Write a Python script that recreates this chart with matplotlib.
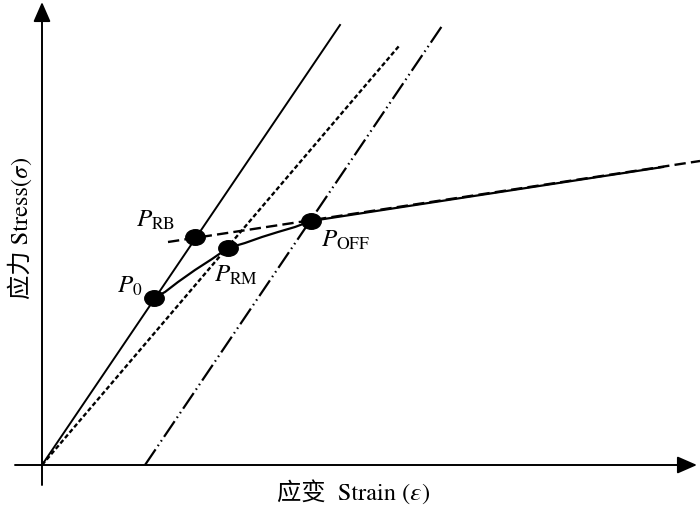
import numpy as np
import matplotlib.pyplot as plt
from matplotlib.path import Path
from matplotlib.transforms import Affine2D

plt.rcParams['mathtext.fontset'] = 'stix'

# schematic strain / stress values (arbitrary units, origin at 0,0)
elastic_x = [0, 298]
elastic_y = [0, 440]
unload_x = [0, 357]
unload_y = [0, 419]
offset_x = [103, 400]
offset_y = [0, 439]
tangent_x = [126, 658]
tangent_y = [223, 304]
plastic_x = [269, 621]
plastic_y = [244, 298]

curve_x = [112, 123, 136, 153, 170, 186, 203, 220, 236, 253, 269]
curve_y = [167, 173, 183, 195, 206, 217, 222, 228, 233, 238, 244]

pt_names = ['P_0', 'P_RB', 'P_RM', 'P_OFF']
pt_x = [112, 153, 186, 269]
pt_y = [167, 228, 217, 244]
lab_x = [75, 94, 172, 279]
lab_y = [172, 238, 183, 218]
lab_txt = [r'$P_{0}$', r'$P_{\mathrm{RB}}$', r'$P_{\mathrm{RM}}$', r'$P_{\mathrm{OFF}}$']

fig = plt.figure(figsize=(7, 5.07), dpi=100)
ax = fig.add_axes([0, 0, 1, 1])
ax.set_xlim(-42, 658)
ax.set_ylim(-42, 465)
ax.axis('off')

# axes with arrows
arr = dict(arrowstyle='-|>,head_length=0.8,head_width=0.35', mutation_scale=15,
           lw=1.4, color='k', shrinkA=0, shrinkB=0)
ax.annotate('', xy=(0, 463), xytext=(0, -20), arrowprops=arr)
ax.annotate('', xy=(655, 0), xytext=(-27, 0), arrowprops=arr)

ax.plot(elastic_x, elastic_y, color='k', lw=1.4)
ax.plot(unload_x, unload_y, color='k', lw=1.7, linestyle=(0, (1.9, 1.1)))
ax.plot(offset_x, offset_y, color='k', lw=1.6,
        linestyle=(0, (8.5, 1.8, 0.7, 1.8, 0.7, 1.8)))
ax.plot(tangent_x, tangent_y, color='k', lw=1.7, linestyle=(0, (4.8, 2.2)))
ax.plot(plastic_x, plastic_y, color='k', lw=1.6)
ax.plot(curve_x, curve_y, color='k', lw=1.6)

ell = Path.unit_circle().transformed(Affine2D().scale(1, 0.8))
ax.plot(pt_x, pt_y, linestyle='none', marker=ell, markersize=14, color='k', zorder=5)

for x, y, t in zip(lab_x, lab_y, lab_txt):
    ax.text(x, y, t, fontsize=18, ha='left', va='baseline')

fam = ['STIXGeneral', 'Noto Sans CJK SC', 'DejaVu Serif']
ax.text(235, -35, '应变  Strain (\U0001D700)', fontsize=17.5, family=fam,
        ha='left', va='baseline')
ax.text(-22, 237, '应力 Stress(\U0001D70E)', fontsize=17.5, family=fam,
        rotation=90, ha='center', va='center')

fig.savefig('out.png', dpi=100)
